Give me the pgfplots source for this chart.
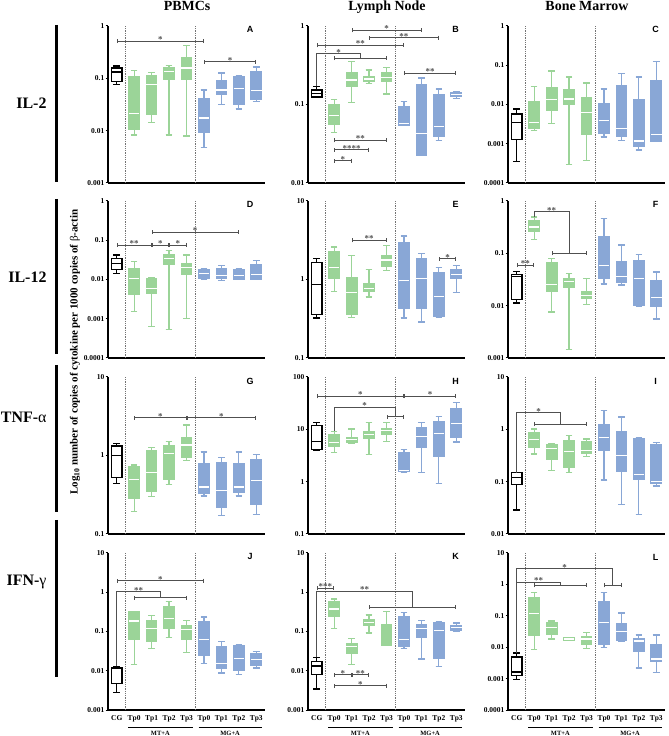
\documentclass[border=0pt]{standalone}
\usepackage{fontspec}
\setmainfont{Liberation Serif}
\newfontfamily\arial{Liberation Sans}
\usepackage{pgfplots}
\pgfplotsset{compat=1.18}
\usepgfplotslibrary{statistics}
\usetikzlibrary{arrows.meta,calc}
\definecolor{gcol}{RGB}{155,212,152}
\definecolor{bcol}{RGB}{137,167,214}
\definecolor{brc}{RGB}{80,80,80}
\pgfplotsset{
  width=157bp,height=157bp,scale only axis,xmin=-0.5,xmax=8.5,
  axis x line*=bottom, axis y line*=left,
  axis line style={-,line width=1.8bp,black},
  xtick=\empty,
  ytick style={line width=1bp,black}, tick align=outside, major tick length=2.5bp,
  minor ytick={}, yminorticks=false,
  yticklabel style={font=\fontsize{7.5}{8}\selectfont\bfseries, inner sep=1bp},
  xticklabel style={font=\fontsize{7.5}{8}\selectfont\bfseries},
  clip=false,
  boxplot/draw direction=y,
  boxplot/box extend=0.6, boxplot/whisker extend=0.38,
 mylastrow/.style={xtick={0,...,8}, xticklabels={CG,Tp0,Tp1,Tp2,Tp3,Tp0,Tp1,Tp2,Tp3}, xtick style={draw=none}},
 cgst/.style={draw=black,fill=white,line width=1.3bp,solid,boxplot/every median/.style={draw=black,line width=1.3bp}},
 gst/.style={draw=gcol,fill=gcol,line width=1.3bp,solid,boxplot/every median/.style={draw=white,line width=1.2bp}},
 bst/.style={draw=bcol,fill=bcol,line width=1.3bp,solid,boxplot/every median/.style={draw=white,line width=1.2bp}},
}
\tikzset{
 brk/.style={draw=brc, line width=0.8bp, {Bar[width=4bp,line width=0.8bp]}-{Bar[width=4bp,line width=0.8bp]}},
 conn/.style={draw=brc, line width=0.8bp},
 sig/.style={anchor=base, inner sep=0pt, yshift=-1.5bp, font=\fontsize{9}{9}\selectfont\bfseries, text=brc},
 plet/.style={font=\arial\bfseries\fontsize{9}{9}\selectfont},
}
% box: style, position, upper whisker, upper quartile, median, lower quartile, lower whisker
\newcommand{\bx}[7]{\addplot[#1, boxplot prepared={draw position=#2, upper whisker=#3, upper quartile=#4, median=#5, lower quartile=#6, lower whisker=#7}] coordinates {};}
\newcommand{\brk}[4]{\draw[brk] (axis cs:#1,#3) -- (axis cs:#2,#3) node[sig,midway]{#4};}
\newcommand{\sep}{\draw[black!55, densely dotted, line width=0.8bp] (rel axis cs:0.1111,0) -- (rel axis cs:0.1111,1);
 \draw[black!55, densely dotted, line width=0.8bp] (rel axis cs:0.5556,0) -- (rel axis cs:0.5556,1);}
\newcommand{\grps}{\draw[line width=1bp, yshift=-17bp] (rel axis cs:0.13,0) -- (rel axis cs:0.5444,0);
 \draw[line width=1bp, yshift=-17bp] (rel axis cs:0.5778,0) -- (rel axis cs:0.9822,0);
 \node[font=\fontsize{6.5}{7}\selectfont\bfseries, yshift=-23bp] at (rel axis cs:0.3333,0) {MT+A};
 \node[font=\fontsize{6.5}{7}\selectfont\bfseries, yshift=-23bp] at (rel axis cs:0.7778,0) {MG+A};}
\begin{document}
\begin{tikzpicture}[x=1bp,y=1bp]
\path[use as bounding box] (0,0) rectangle (669,736);
% titles
\node[anchor=base, font=\fontsize{14}{14}\selectfont\bfseries] at (187,725) {PBMCs};
\node[anchor=base, font=\fontsize{14}{14}\selectfont\bfseries] at (387,725) {Lymph Node};
\node[anchor=base, font=\fontsize{14}{14}\selectfont\bfseries] at (587,725) {Bone Marrow};
\node[anchor=east, font=\fontsize{16}{16}\selectfont\bfseries] at (50,633) {IL-2};
\node[anchor=east, font=\fontsize{16}{16}\selectfont\bfseries] at (50,459) {IL-12};
\node[anchor=east, font=\fontsize{16}{16}\selectfont\bfseries] at (50,319) {TNF-{\mdseries α}};
\node[anchor=east, font=\fontsize{16}{16}\selectfont\bfseries] at (50,154) {IFN-{\mdseries γ}};
\draw[line width=3bp] (56.5,711) -- (56.5,554);
\draw[line width=3bp] (56.5,537) -- (56.5,382);
\draw[line width=3bp] (56.5,371) -- (56.5,224);
\draw[line width=3bp] (56.5,216) -- (56.5,59);
\node[rotate=90, font=\fontsize{11}{11}\selectfont\bfseries] at (75,384) {Log\textsubscript{10} number of copies of cytokine per 1000 copies of {\mdseries β}-actin};

% ---------- A
\begin{axis}[ymode=log, at={(108bp,553bp)}, anchor=south west, ymin=0.001, ymax=1, ytick={0.001,0.01,0.1,1}, yticklabels={0.001,0.01,0.1,1}]
\sep
\bx{cgst}{0}{0.172}{0.157}{0.132}{0.087}{0.076}
\bx{gst}{1}{0.142}{0.106}{0.0214}{0.0104}{0.0083}
\bx{gst}{2}{0.130}{0.114}{0.075}{0.0201}{0.0141}
\bx{gst}{3}{0.175}{0.160}{0.136}{0.097}{0.0083}
\bx{gst}{4}{0.43}{0.249}{0.157}{0.097}{0.0079}
\bx{bst}{5}{0.060}{0.040}{0.0174}{0.0092}{0.0047}
\bx{bst}{6}{0.126}{0.091}{0.060}{0.050}{0.032}
\bx{bst}{7}{0.114}{0.106}{0.063}{0.032}{0.026}
\bx{bst}{8}{0.165}{0.132}{0.058}{0.040}{0.036}
\brk{0}{5}{0.514}{*}
\brk{5}{8}{0.206}{*}
\node[plet] at (rel axis cs:0.905,0.975) {A};
\end{axis}
% ---------- B
\begin{axis}[ymode=log, at={(308bp,553bp)}, anchor=south west, ymin=0.01, ymax=1, ytick={0.01,0.1,1}, yticklabels={0.01,0.1,1}]
\sep
\bx{cgst}{0}{0.170}{0.153}{0.138}{0.125}{0.125}
\bx{gst}{1}{0.115}{0.1}{0.0716}{0.056}{0.0438}
\bx{gst}{2}{0.356}{0.257}{0.205}{0.170}{0.106}
\bx{gst}{3}{0.275}{0.226}{0.211}{0.195}{0.186}
\bx{gst}{4}{0.298}{0.252}{0.222}{0.195}{0.136}
\bx{bst}{5}{0.109}{0.093}{0.057}{0.055}{0.055}
\bx{bst}{6}{0.218}{0.179}{0.043}{0.0226}{0.0226}
\bx{bst}{7}{0.157}{0.133}{0.053}{0.0396}{0.035}
\bx{bst}{8}{0.145}{0.141}{0.133}{0.128}{0.12}
\brk{2}{6}{0.88}{*}
\brk{3}{7}{0.71}{**}
\brk{0}{5}{0.565}{**}
\draw[conn] (axis cs:0,0.17) |- (axis cs:2.5,0.442) -- (axis cs:2.5,0.389);
\node[sig] at (axis cs:1.25,0.442) {*};
\brk{1}{4}{0.389}{}
\brk{5}{8}{0.25}{**}
\brk{1}{4}{0.035}{**}
\brk{1}{3}{0.0267}{****}
\brk{1}{2}{0.0193}{*}
\node[plet] at (rel axis cs:0.94,0.975) {B};
\end{axis}
% ---------- C
\begin{axis}[ymode=log, at={(508bp,553bp)}, anchor=south west, ymin=0.0001, ymax=1, ytick={0.0001,0.001,0.01,0.1,1}, yticklabels={0.0001,0.001,0.01,0.1,1}]
\sep
\bx{cgst}{0}{0.00766}{0.0057}{0.00348}{0.0013}{0.000347}
\bx{gst}{1}{0.0287}{0.012}{0.0035}{0.00249}{0.00213}
\bx{gst}{2}{0.0711}{0.0265}{0.0131}{0.00722}{0.00328}
\bx{gst}{3}{0.0499}{0.0236}{0.0138}{0.0103}{0.000296}
\bx{gst}{4}{0.035}{0.0153}{0.0063}{0.00175}{0.000375}
\bx{bst}{5}{0.025}{0.0107}{0.00384}{0.00182}{0.00149}
\bx{bst}{6}{0.0608}{0.0305}{0.00244}{0.00158}{0.00122}
\bx{bst}{7}{0.0499}{0.0133}{0.00118}{0.000875}{0.00069}
\bx{bst}{8}{0.126}{0.041}{0.00175}{0.00118}{0.00113}
\node[plet] at (rel axis cs:0.94,0.975) {C};
\end{axis}
% ---------- D
\begin{axis}[ymode=log, at={(108bp,378bp)}, anchor=south west, ymin=0.0001, ymax=1, ytick={0.0001,0.001,0.01,0.1,1}, yticklabels={0.0001,0.001,0.01,0.1,1}]
\sep
\bx{cgst}{0}{0.0424}{0.0349}{0.026}{0.0183}{0.0145}
\bx{gst}{1}{0.0287}{0.0194}{0.0104}{0.00424}{0.00154}
\bx{gst}{2}{0.0112}{0.0106}{0.006}{0.0045}{0.00064}
\bx{gst}{3}{0.0546}{0.0424}{0.0349}{0.0236}{0.000525}
\bx{gst}{4}{0.0424}{0.026}{0.0206}{0.0137}{0.001}
\bx{bst}{5}{0.0194}{0.0176}{0.0145}{0.0106}{0.0098}
\bx{bst}{6}{0.0227}{0.0187}{0.0124}{0.0104}{0.0094}
\bx{bst}{7}{0.0194}{0.0176}{0.0124}{0.0102}{0.0098}
\bx{bst}{8}{0.0304}{0.0236}{0.0131}{0.0102}{0.0098}
\brk{0}{2}{0.076}{**}
\brk{2}{3}{0.076}{*}
\brk{3}{4}{0.076}{*}
\brk{2}{7}{0.16}{*}
\node[plet] at (rel axis cs:0.905,0.975) {D};
\end{axis}
% ---------- E
\begin{axis}[ymode=log, at={(308bp,378bp)}, anchor=south west, ymin=0.1, ymax=10, ytick={0.1,1,10}, yticklabels={0.1,1,10}]
\sep
\bx{cgst}{0}{1.85}{1.63}{0.863}{0.357}{0.324}
\bx{gst}{1}{2.59}{2.23}{1.41}{1.03}{0.71}
\bx{gst}{2}{2.02}{1.07}{0.689}{0.357}{0.33}
\bx{gst}{3}{1.34}{0.889}{0.767}{0.71}{0.60}
\bx{gst}{4}{2.72}{2.02}{1.77}{1.48}{1.30}
\bx{bst}{5}{3.57}{2.94}{0.98}{0.435}{0.324}
\bx{bst}{6}{2.15}{1.87}{1.02}{0.423}{0.288}
\bx{bst}{7}{1.41}{1.22}{0.612}{0.34}{0.33}
\bx{bst}{8}{1.51}{1.34}{1.16}{1.02}{0.676}
\brk{2}{4}{3.15}{**}
\brk{7}{8}{1.85}{*}
\node[plet] at (rel axis cs:0.94,0.975) {E};
\end{axis}
% ---------- F
\begin{axis}[ymode=log, at={(508bp,378bp)}, anchor=south west, ymin=0.001, ymax=1, ytick={0.001,0.01,0.1,1}, yticklabels={0.001,0.01,0.1,1}]
\sep
\bx{cgst}{0}{0.0444}{0.0394}{0.0356}{0.0131}{0.0113}
\bx{gst}{1}{0.494}{0.414}{0.318}{0.259}{0.185}
\bx{gst}{2}{0.0799}{0.066}{0.0254}{0.0189}{0.0076}
\bx{gst}{3}{0.0412}{0.0326}{0.0294}{0.0219}{0.00145}
\bx{gst}{4}{0.0326}{0.0189}{0.0156}{0.0135}{0.0105}
\bx{bst}{5}{0.466}{0.207}{0.0595}{0.0326}{0.0261}
\bx{bst}{6}{0.144}{0.069}{0.0356}{0.0273}{0.0247}
\bx{bst}{7}{0.0953}{0.071}{0.0326}{0.0101}{0.0098}
\bx{bst}{8}{0.0437}{0.0307}{0.0141}{0.0095}{0.00559}
\brk{0}{1}{0.0595}{**}
\draw[conn] (axis cs:1,0.494) |- (axis cs:3,0.625) -- (axis cs:3,0.1);
\node[sig] at (axis cs:2,0.625) {**};
\brk{2}{4}{0.1}{}
\node[plet] at (rel axis cs:0.94,0.975) {F};
\end{axis}
% ---------- G
\begin{axis}[ymode=log, at={(108bp,202bp)}, anchor=south west, ymin=0.1, ymax=10, ytick={0.1,1,10}, yticklabels={0.1,1,10}]
\sep
\bx{cgst}{0}{1.41}{1.32}{1.01}{0.524}{0.443}
\bx{gst}{1}{0.758}{0.715}{0.499}{0.283}{0.192}
\bx{gst}{2}{1.26}{1.14}{0.605}{0.348}{0.298}
\bx{gst}{3}{1.5}{1.35}{1.05}{0.499}{0.431}
\bx{gst}{4}{2.44}{1.68}{1.36}{0.957}{0.869}
\bx{bst}{5}{1.11}{0.787}{0.398}{0.331}{0.306}
\bx{bst}{6}{0.939}{0.811}{0.362}{0.218}{0.171}
\bx{bst}{7}{1.11}{0.787}{0.398}{0.338}{0.306}
\bx{bst}{8}{1.03}{0.877}{0.484}{0.236}{0.176}
\brk{1}{4}{3.02}{*}
\brk{4}{8}{3.02}{*}
\node[plet] at (rel axis cs:0.905,0.975) {G};
\end{axis}
% ---------- H
\begin{axis}[ymode=log, at={(308bp,202bp)}, anchor=south west, ymin=0.1, ymax=100, ytick={0.1,1,10,100}, yticklabels={0.1,1,10,100}]
\sep
\bx{cgst}{0}{13.6}{11.8}{5.86}{4.14}{3.96}
\bx{gst}{1}{9.2}{7.96}{5.53}{4.71}{3.57}
\bx{gst}{2}{10.2}{7.08}{6.4}{5.53}{5.3}
\bx{gst}{3}{13.6}{9.2}{7.84}{6.59}{3.28}
\bx{gst}{4}{13.6}{10.5}{9.48}{7.96}{5.86}
\bx{bst}{5}{4.14}{3.52}{1.61}{1.54}{1.49}
\bx{bst}{6}{13.6}{10.6}{7.4}{4.58}{1.49}
\bx{bst}{7}{17.7}{14.3}{8.44}{3.09}{0.925}
\bx{bst}{8}{32.6}{25.1}{12.7}{7.08}{5.7}
\brk{0}{5}{42.4}{*}
\brk{5}{8}{42.4}{*}
\draw[conn] (axis cs:1,9.2) |- (axis cs:4.5,26.2) -- (axis cs:4.5,17.5);
\node[sig] at (axis cs:2.75,26.2) {*};
\brk{4}{5}{17.5}{}
\node[plet] at (rel axis cs:0.94,0.975) {H};
\end{axis}
% ---------- I
\begin{axis}[ymode=log, at={(508bp,202bp)}, anchor=south west, ymin=0.01, ymax=10, ytick={0.01,0.1,1,10}, yticklabels={0.01,0.1,1,10}]
\sep
\bx{cgst}{0}{0.149}{0.149}{0.12}{0.088}{0.0289}
\bx{gst}{1}{1.01}{0.873}{0.635}{0.455}{0.34}
\bx{gst}{2}{0.541}{0.503}{0.423}{0.262}{0.165}
\bx{gst}{3}{0.755}{0.608}{0.377}{0.185}{0.149}
\bx{gst}{4}{0.653}{0.582}{0.394}{0.355}{0.307}
\bx{bst}{5}{2.31}{1.22}{0.703}{0.394}{0.107}
\bx{bst}{6}{1.73}{0.9}{0.316}{0.16}{0.037}
\bx{bst}{7}{0.703}{0.653}{0.136}{0.11}{0.0239}
\bx{bst}{8}{0.565}{0.518}{0.099}{0.092}{0.083}
\draw[conn] (axis cs:0,0.149) |- (axis cs:2.5,2.09) -- (axis cs:2.5,1.26);
\node[sig] at (axis cs:1.25,2.09) {*};
\brk{1}{4}{1.26}{}
\node[plet] at (rel axis cs:0.94,0.975) {I};
\end{axis}
% ---------- J
\begin{axis}[ymode=log, mylastrow, at={(108bp,26bp)}, anchor=south west, ymin=0.001, ymax=10, ytick={0.001,0.01,0.1,1,10}, yticklabels={0.001,0.01,0.1,1,10}]
\sep
\bx{cgst}{0}{0.0129}{0.0121}{0.0115}{0.0047}{0.00274}
\bx{gst}{1}{0.326}{0.313}{0.186}{0.0629}{0.0142}
\bx{gst}{2}{0.258}{0.193}{0.119}{0.0549}{0.0373}
\bx{gst}{3}{0.593}{0.435}{0.213}{0.119}{0.0692}
\bx{gst}{4}{0.193}{0.144}{0.112}{0.0629}{0.0296}
\bx{bst}{5}{0.234}{0.182}{0.0629}{0.0253}{0.0156}
\bx{bst}{6}{0.0549}{0.0411}{0.015}{0.0117}{0.0087}
\bx{bst}{7}{0.047}{0.0427}{0.0201}{0.0102}{0.0079}
\bx{bst}{8}{0.0307}{0.0268}{0.0197}{0.0134}{0.0117}
\brk{0}{5}{1.97}{*}
\draw[conn] (axis cs:0,0.0129) |- (axis cs:2.5,1.04) -- (axis cs:2.5,0.72);
\node[sig] at (axis cs:1.25,1.04) {**};
\brk{1}{4}{0.72}{}
\grps
\node[plet] at (rel axis cs:0.905,0.975) {J};
\end{axis}
% ---------- K
\begin{axis}[ymode=log, mylastrow, at={(308bp,26bp)}, anchor=south west, ymin=0.001, ymax=10, ytick={0.001,0.01,0.1,1,10}, yticklabels={0.001,0.01,0.1,1,10}]
\sep
\bx{cgst}{0}{0.022}{0.0171}{0.0133}{0.0079}{0.00344}
\bx{gst}{1}{0.67}{0.574}{0.375}{0.241}{0.118}
\bx{gst}{2}{0.066}{0.0494}{0.0408}{0.0277}{0.0147}
\bx{gst}{3}{0.265}{0.199}{0.173}{0.143}{0.0917}
\bx{gst}{4}{0.321}{0.151}{0.0423}{0.0408}{0.0408}
\bx{bst}{5}{0.31}{0.232}{0.0623}{0.0423}{0.037}
\bx{bst}{6}{0.191}{0.151}{0.118}{0.07}{0.02}
\bx{bst}{7}{0.181}{0.173}{0.107}{0.0207}{0.0128}
\bx{bst}{8}{0.164}{0.143}{0.125}{0.11}{0.1}
\brk{0}{1}{1.25}{***}
\draw[conn] (axis cs:0,0.022) |- (axis cs:5.5,1.05) -- (axis cs:5.5,0.413);
\node[sig] at (axis cs:2.75,1.05) {**};
\brk{3}{8}{0.413}{}
\brk{1}{2}{0.0079}{*}
\brk{2}{3}{0.0079}{**}
\brk{1}{4}{0.0042}{*}
\grps
\node[plet] at (rel axis cs:0.94,0.975) {K};
\end{axis}
% ---------- L
\begin{axis}[ymode=log, mylastrow, at={(508bp,26bp)}, anchor=south west, ymin=0.0001, ymax=10, ytick={0.0001,0.001,0.01,0.1,1,10}, yticklabels={0.0001,0.001,0.01,0.1,1,10}]
\sep
\bx{cgst}{0}{0.00647}{0.00483}{0.00162}{0.00124}{0.00093}
\bx{gst}{1}{0.546}{0.379}{0.119}{0.0234}{0.00865}
\bx{gst}{2}{0.0679}{0.0616}{0.0418}{0.0264}{0.0183}
\bx{gst}{3}{0.0207}{0.0195}{0.0183}{0.017}{0.017}
\bx{gst}{4}{0.0298}{0.0217}{0.0183}{0.0127}{0.0089}
\bx{bst}{5}{0.546}{0.277}{0.0601}{0.0119}{0.01}
\bx{bst}{6}{0.124}{0.0573}{0.0313}{0.017}{0.0158}
\bx{bst}{7}{0.0245}{0.0183}{0.0158}{0.0073}{0.00217}
\bx{bst}{8}{0.0245}{0.0119}{0.00418}{0.00353}{0.00158}
\draw[conn] (axis cs:0,0.00647) |- (axis cs:5.5,3.13) -- (axis cs:5.5,0.93);
\node[sig] at (axis cs:2.75,3.13) {*};
\brk{5}{6}{0.93}{}
\draw[conn] (axis cs:0,1.18) -- (axis cs:2.5,1.18) -- (axis cs:2.5,0.93);
\node[sig] at (axis cs:1.25,1.18) {**};
\brk{1}{4}{0.93}{}
\grps
\node[plet] at (rel axis cs:0.94,0.975) {L};
\end{axis}
\end{tikzpicture}
\end{document}
